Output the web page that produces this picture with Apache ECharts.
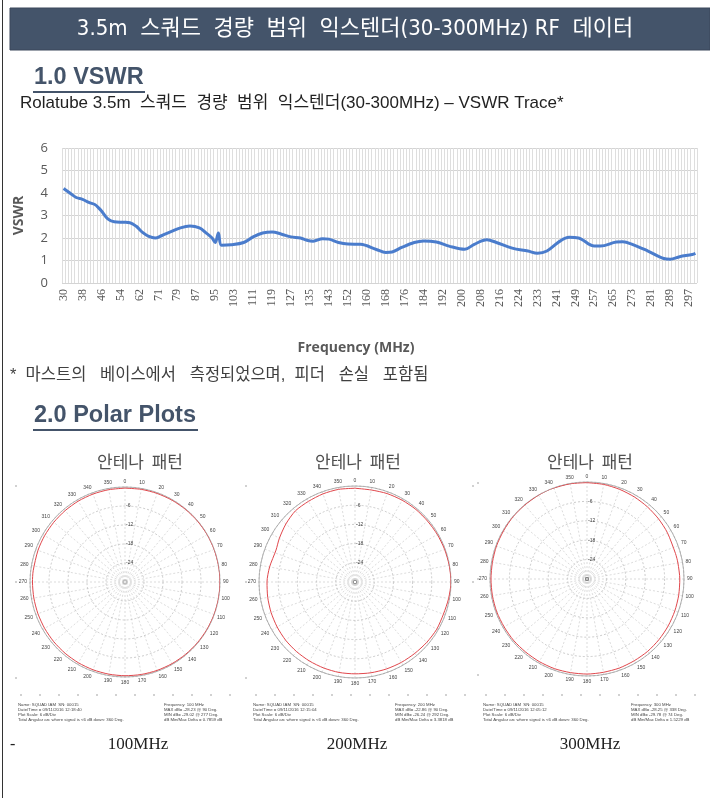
<!DOCTYPE html>
<html><head><meta charset="utf-8">
<script src="https://cdn.jsdelivr.net/npm/echarts@6/dist/echarts.min.js"></script>
<style>html,body{margin:0;padding:0;background:#fff}#c{width:710px;height:798px}</style>
</head><body><div id="c"></div>
<script>
// ---------- VSWR data ----------
const freqStart = 30, freqStepCenti = 135, freqCount = 201;
const categories = Array.from({length: freqCount}, (_, i) => String(Math.round((freqStart * 100 + i * freqStepCenti) / 100)));
const vswrFreq = [30, 32.7, 35.4, 38.1, 40.8, 43.5, 45, 46.2, 48.9, 51.6, 55.7, 58.4, 61, 63.8, 66.5, 69.2, 71.9, 75.9, 79.9, 84, 87.8, 91.2, 93.9, 95.3, 96.6, 98, 102, 106.3, 110.4, 114.4, 118.5, 122.5, 126.6, 130.6, 134.6, 137.3, 141.3, 144, 148.1, 152.1, 157.5, 163, 168.3, 171, 175, 180.4, 184.4, 189.8, 195.2, 201.9, 205.9, 211.3, 215.4, 221.1, 228, 233.1, 236.7, 242.3, 246.6, 249.4, 256.5, 259.3, 266.4, 269.3, 273.5, 279.2, 286.3, 289, 293.4, 298.4, 300];
const vswrValue = [4.20, 4.00, 3.80, 3.72, 3.58, 3.48, 3.35, 3.20, 2.85, 2.72, 2.70, 2.68, 2.52, 2.25, 2.07, 2.00, 2.10, 2.28, 2.45, 2.53, 2.45, 2.24, 2.00, 1.80, 2.22, 1.68, 1.70, 1.80, 2.05, 2.22, 2.27, 2.17, 2.05, 2.00, 1.90, 1.86, 1.97, 1.95, 1.80, 1.73, 1.72, 1.49, 1.36, 1.38, 1.58, 1.80, 1.87, 1.82, 1.64, 1.50, 1.72, 1.92, 1.80, 1.55, 1.42, 1.32, 1.42, 1.85, 2.03, 2.00, 1.64, 1.64, 1.82, 1.83, 1.72, 1.42, 1.09, 1.06, 1.17, 1.27, 1.32];
const yTicks = [0, 1, 2, 3, 4, 5, 6];

// ---------- Polar data (dB relative to max) ----------
const angles100 = [0,10,20,30,40,50,60,70,80,90,100,110,120,130,140,150,160,170,180,190,200,210,220,230,240,250,260,270,277,290,300,310,320,330,340,350,360];
const db100 = [-0.35,-0.3,-0.25,-0.2,-0.15,-0.1,-0.05,-0.03,-0.01,0,-0.02,-0.05,-0.1,-0.15,-0.2,-0.25,-0.3,-0.35,-0.4,-0.45,-0.5,-0.55,-0.6,-0.65,-0.7,-0.74,-0.77,-0.78,-0.79,-0.76,-0.7,-0.65,-0.58,-0.5,-0.45,-0.4,-0.35];
const angles200 = [0,10,20,30,40,50,60,70,80,90,100,110,120,130,140,150,160,170,180,190,200,210,220,230,240,250,260,270,280,292,300,310,320,330,340,350,360];
const db200 = [-0.7,-0.8,-0.6,-0.5,-0.4,-0.4,-0.3,-0.2,-0.1,0,-0.3,-0.6,-0.5,-0.7,-0.9,-1.0,-1.1,-1.2,-1.3,-1.3,-1.4,-1.5,-1.6,-1.7,-1.9,-2.1,-2.3,-2.5,-2.9,-3.38,-2.7,-1.8,-1.0,-0.9,-0.7,-0.6,-0.7];
const angles300 = [0,10,20,30,40,50,60,74,80,90,100,110,120,130,140,150,160,170,180,190,200,210,220,230,240,250,260,270,280,290,300,310,320,330,338,350,360];
const db300 = [-0.2,-0.3,-0.5,-0.7,-0.9,-1.1,-1.3,-1.52,-1.45,-1.3,-1.2,-1.1,-1.0,-0.9,-0.8,-0.8,-0.7,-0.7,-0.6,-0.6,-0.5,-0.5,-0.5,-0.4,-0.4,-0.3,-0.3,-0.3,-0.3,-0.2,-0.2,-0.1,-0.1,-0.05,0,-0.1,-0.2];

const polarInfo = [
  ['Name: SQUAD IAM  SN: 00015','Date/Time = 09/11/2016 12:18:40','Plot Scale: 6 dB/Div','Total Angular arc where signal is <6 dB down: 360 Deg.','Frequency: 100 MHz','MAX dB= -28.23 @ 90 Deg.','MIN dB= -29.02 @ 277 Deg.','dB Min/Max Delta = 0.7859 dB'],
  ['Name: SQUAD IAM  SN: 00015','Date/Time = 09/11/2016 12:15:04','Plot Scale: 6 dB/Div','Total Angular arc where signal is <6 dB down: 360 Deg.','Frequency: 200 MHz','MAX dB= -22.86 @ 90 Deg.','MIN dB= -26.24 @ 292 Deg.','dB Min/Max Delta = 3.3818 dB'],
  ['Name: SQUAD IAM  SN: 00015','Date/Time = 09/11/2016 12:05:12','Plot Scale: 6 dB/Div','Total Angular arc where signal is <6 dB down: 360 Deg.','Frequency: 300 MHz','MAX dB= -28.25 @ 338 Deg.','MIN dB= -29.78 @ 74 Deg.','dB Min/Max Delta = 1.5229 dB']
];

// ---------- layout ----------
const polarCenters = [[125, 582], [355, 582], [587, 579]];
const polarRadii = [95, 96, 97];
const infoLeftX = [18, 253, 483];
const infoRightX = [164, 395, 631];
const tickRowStart = [21, 256, 486];

const KR = "'Noto Sans CJK KR'";
const chart = echarts.init(document.getElementById('c'), null, {renderer: 'canvas'});

const lineData = vswrFreq.map((f, i) => [Math.round((f - freqStart) / (freqStepCenti / 100)), vswrValue[i]]);

const polars = [], angleAxes = [], radiusAxes = [], polarSeries = [];
const traces = [[angles100, db100], [angles200, db200], [angles300, db300]];
for (let k = 0; k < 3; k++) {
  polars.push({center: polarCenters[k], radius: polarRadii[k]});
  angleAxes.push({
    polarIndex: k, type: 'value', min: 0, max: 360, interval: 10, startAngle: 90, clockwise: true,
    axisLine: {lineStyle: {color: '#a0a0a0', width: 0.8}},
    axisTick: {show: false},
    axisLabel: {fontSize: 5, color: '#444', margin: 3, fontFamily: 'Liberation Sans',
      formatter: v => v === 360 ? '' : String(v)},
    splitLine: {show: true, lineStyle: {color: '#c4c4c4', width: 0.6, type: [2, 2]}}
  });
  radiusAxes.push({
    polarIndex: k, type: 'value', min: -30, max: 0, interval: 6,
    axisLine: {show: false}, axisTick: {show: false},
    axisLabel: {fontSize: 5, color: '#444', margin: -1, align: 'left', fontFamily: 'Liberation Sans',
      formatter: v => (v === -30 || v === 0) ? '' : String(v)},
    splitLine: {show: true, lineStyle: {color: '#b4b4b4', width: 0.7, type: [2, 2]}}
  });
  const [ang, db] = traces[k];
  polarSeries.push({
    type: 'line', coordinateSystem: 'polar', polarIndex: k, smooth: 0.25, symbol: 'none',
    lineStyle: {color: '#e0474c', width: 1}, silent: true,
    data: ang.map((a, i) => [db[i], a])
  });
}

const g = [];
function txt(x, y, text, font, fill, align, valign) {
  g.push({type: 'text', x: x, y: y, style: {text: text, font: font, fill: fill,
    textAlign: align || 'left', textVerticalAlign: valign || 'middle', align: align || 'left', verticalAlign: valign || 'middle'}});
}
function rect(x, y, w, h, fill, stroke) {
  g.push({type: 'rect', shape: {x: x, y: y, width: w, height: h}, style: {fill: fill, stroke: stroke || null, lineWidth: stroke ? 1 : 0}});
}
function line(x1, y1, x2, y2, color, w) {
  g.push({type: 'line', shape: {x1: x1, y1: y1, x2: x2, y2: y2}, style: {stroke: color, lineWidth: w || 1}});
}

line(2.5, 0, 2.5, 798, '#333', 1);
rect(10, 8, 700, 42, '#44546A', '#3a475a');
txt(355, 29.5, '3.5m  스쿼드  경량  범위  익스텐더(30-300MHz) RF  데이터', "22px 'Liberation Sans Narrow','DejaVu Sans Condensed'," + KR, '#ffffff', 'center');
txt(34, 78, '1.0 VSWR', "bold 23.5px 'Liberation Sans'," + KR, '#44546A');
rect(33, 91, 112, 2, '#44546A');
txt(20, 103, 'Rolatube 3.5m  스쿼드  경량  범위  익스텐더(30-300MHz) – VSWR Trace*', "17px 'Liberation Sans'," + KR, '#222');
txt(10, 375, '*  마스트의   베이스에서   측정되었으며,  피더   손실   포함됨', "16.5px 'Liberation Sans'," + KR, '#404040');
txt(34, 416, '2.0 Polar Plots', "bold 23.5px 'Liberation Sans'," + KR, '#44546A');
rect(33, 429, 165, 2, '#44546A');
txt(356, 348, 'Frequency (MHz)', "bold 14px 'Open Sans','Liberation Sans'", '#595959', 'center');

const polarTitleX = [140, 358, 590];
const freqLabelX = [138, 357, 590];
const freqLabels = ['100MHz', '200MHz', '300MHz'];
for (let k = 0; k < 3; k++) {
  txt(polarTitleX[k], 462, '안테나  패턴', "17px " + KR, '#505050', 'center');
  txt(freqLabelX[k], 745, freqLabels[k], "17px 'Liberation Serif','DejaVu Serif'", '#222', 'center');
  const info = polarInfo[k];
  for (let j = 0; j < 4; j++) {
    txt(infoLeftX[k], 704.5 + j * 5, info[j], "4.3px 'Liberation Sans'", '#444');
    txt(infoRightX[k], 704.5 + j * 5, info[j + 4], "4.3px 'Liberation Sans'", '#444');
  }
  for (let t = 0; t < 12; t++) {
    const x = tickRowStart[k] + t * 19;
    line(x, 694, x, 696, '#666', 0.6);
  }
  const cx = polarCenters[k][0], cy = polarCenters[k][1];
  const lx = cx - 110;
  [cy - 96, cy, cy + 96].forEach(y => line(lx, y, lx + 2, y, '#666', 0.6));
  rect(cx - 1.5, cy - 1.5, 3, 3, null, '#888');
}
line(472, 486, 474, 486, '#666', 0.6);
line(472, 582, 474, 582, '#666', 0.6);
txt(10, 745, '-', "16px 'Liberation Serif'", '#222');

const option = {
  animation: false,
  backgroundColor: '#ffffff',
  grid: {left: 62, top: 148, width: 635, height: 135, containLabel: false},
  xAxis: {
    type: 'category', data: categories, boundaryGap: true,
    axisLine: {show: false}, axisTick: {show: false},
    axisLabel: {interval: 5, rotate: 90, fontSize: 12, color: '#595959', margin: 6, fontFamily: "'Liberation Serif','DejaVu Serif'"},
    splitLine: {show: true, interval: 0, lineStyle: {color: '#dedede', width: 1}}
  },
  yAxis: {
    type: 'value', min: 0, max: 6, interval: 1,
    name: 'VSWR', nameLocation: 'middle', nameGap: 36, nameRotate: 90,
    nameTextStyle: {fontSize: 14, fontWeight: 'bold', color: '#595959', fontFamily: "'Open Sans','Liberation Sans'"},
    axisLine: {show: false}, axisTick: {show: false},
    axisLabel: {fontSize: 13, color: '#595959', margin: 14, fontFamily: "'Open Sans','Liberation Sans'",
      formatter: v => yTicks.includes(v) ? String(v) : ''},
    splitLine: {show: true, lineStyle: {color: '#d4d4d4', width: 1}}
  },
  polar: polars,
  angleAxis: angleAxes,
  radiusAxis: radiusAxes,
  series: [{
    type: 'line', data: lineData, smooth: 0.35, symbol: 'none', silent: true,
    lineStyle: {color: '#4a7ccc', width: 3}
  }].concat(polarSeries),
  graphic: {elements: g}
};
chart.setOption(option);
</script></body></html>
